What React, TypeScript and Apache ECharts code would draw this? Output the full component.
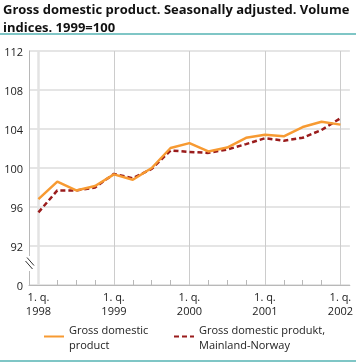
import React, { useEffect, useRef } from "react";
import * as echarts from "echarts";

const quarters = [
  "1. q.\n1998", "2. q.\n1998", "3. q.\n1998", "4. q.\n1998",
  "1. q.\n1999", "2. q.\n1999", "3. q.\n1999", "4. q.\n1999",
  "1. q.\n2000", "2. q.\n2000", "3. q.\n2000", "4. q.\n2000",
  "1. q.\n2001", "2. q.\n2001", "3. q.\n2001", "4. q.\n2001",
  "1. q.\n2002",
];

const gdp = [96.8, 98.6, 97.7, 98.15, 99.35, 98.8, 100.0, 102.05, 102.55, 101.7, 102.1, 103.1, 103.4, 103.25, 104.2, 104.75, 104.45];
const mainland = [95.45, 97.7, 97.7, 98.0, 99.4, 98.95, 99.9, 101.8, 101.65, 101.55, 101.9, 102.45, 103.05, 102.8, 103.1, 103.9, 105.1];

const yTickLabels: Record<number, string> = { 88: "0", 92: "92", 96: "96", 100: "100", 104: "104", 108: "108", 112: "112" };
const yearStartIdx = [0, 4, 8, 12, 16];

const seriesNames = ["Gross domestic\nproduct", "Gross domestic produkt,\nMainland-Norway"];
const titleLines = ["Gross domestic product. Seasonally adjusted. Volume", "indices. 1999=100"];

const FONT = "'Open Sans', sans-serif";
const ORANGE = "#f79a32";
const RED = "#9a1c1c";
const TEAL = "#7fc6c6";

export default function App() {
  const ref = useRef<HTMLDivElement>(null);
  useEffect(() => {
    if (!ref.current) return;
    const chart = echarts.init(ref.current, undefined, { renderer: "svg" });
    const titleStyle = { fontFamily: FONT, fontSize: 13, fontWeight: "bold", color: "#111", lineHeight: 17 };
    const legendCommon = {
      top: 314,
      padding: 0,
      itemWidth: 20,
      itemHeight: 10,
      itemStyle: { opacity: 0 },
      textStyle: { fontFamily: FONT, fontSize: 11, color: "#222", lineHeight: 15, padding: [15, 0, 0, 0] },
    };
    chart.setOption({
      animation: false,
      textStyle: { fontFamily: FONT },
      title: [
        { text: titleLines[0], left: 3, top: 0, padding: 0, textStyle: titleStyle },
        { text: titleLines[1], left: 3, top: 18, padding: 0, textStyle: titleStyle },
      ],
      grid: { left: 29, right: 6, top: 51, bottom: 77, containLabel: false },
      xAxis: {
        type: "category",
        data: quarters,
        boundaryGap: true,
        axisLine: { show: true, lineStyle: { color: "#b8b8b8", width: 1 } },
        axisTick: { show: true, inside: true, length: 5, alignWithLabel: true, interval: 0, lineStyle: { color: "#b8b8b8" } },
        axisLabel: {
          interval: (i: number) => i % 4 === 0,
          color: "#222",
          fontSize: 11,
          lineHeight: 14,
          margin: 4,
          fontFamily: FONT,
        },
        splitLine: { show: false },
      },
      yAxis: {
        type: "value",
        min: 88,
        max: 112,
        interval: 4,
        axisLine: { show: true, lineStyle: { color: "#b8b8b8", width: 1 } },
        axisTick: { show: false },
        axisLabel: {
          formatter: (v: number) => yTickLabels[v] ?? "",
          color: "#222",
          fontSize: 11,
          margin: 6,
          fontFamily: FONT,
        },
        splitLine: { show: true, lineStyle: { color: "#dcdcdc", width: 1.5 } },
      },
      legend: [
        { ...legendCommon, data: [seriesNames[0]], left: 43 },
        { ...legendCommon, data: [seriesNames[1]], left: 173 },
      ],
      series: [
        {
          name: seriesNames[0],
          type: "line",
          data: gdp,
          symbol: "none",
          lineStyle: { color: ORANGE, width: 2.5 },
          itemStyle: { color: ORANGE },
          z: 3,
        },
        {
          name: seriesNames[1],
          type: "line",
          data: mainland,
          symbol: "none",
          lineStyle: { color: RED, width: 2.5, type: [5, 3] },
          itemStyle: { color: RED },
          z: 2,
          markLine: {
            silent: true,
            z: 1,
            symbol: "none",
            label: { show: false },
            emphasis: { disabled: true },
            data: yearStartIdx.map((i) => ({
              xAxis: i,
              lineStyle: i === 0
                ? { color: "#e3e3e3", width: 2.5, type: "solid" }
                : { color: "#cccccc", width: 1, type: "solid" },
            })),
          },
        },
      ],
      graphic: [
        { type: "line", shape: { x1: 0, y1: 34, x2: 356, y2: 34 }, style: { stroke: TEAL, lineWidth: 2 } },
        { type: "line", shape: { x1: 0, y1: 361, x2: 356, y2: 361 }, style: { stroke: TEAL, lineWidth: 2 } },
        { type: "rect", shape: { x: 24, y: 256, width: 10, height: 15 }, style: { fill: "#fff" }, z: 10 },
        { type: "line", shape: { x1: 27, y1: 257.5, x2: 34, y2: 265.5 }, style: { stroke: "#333", lineWidth: 1 }, z: 11 },
        { type: "line", shape: { x1: 25.5, y1: 261, x2: 32.5, y2: 269 }, style: { stroke: "#333", lineWidth: 1 }, z: 11 },
      ],
    });
    return () => chart.dispose();
  }, []);
  return <div ref={ref} style={{ position: "fixed", left: 0, top: 0, width: 356, height: 362 }} />;
}
